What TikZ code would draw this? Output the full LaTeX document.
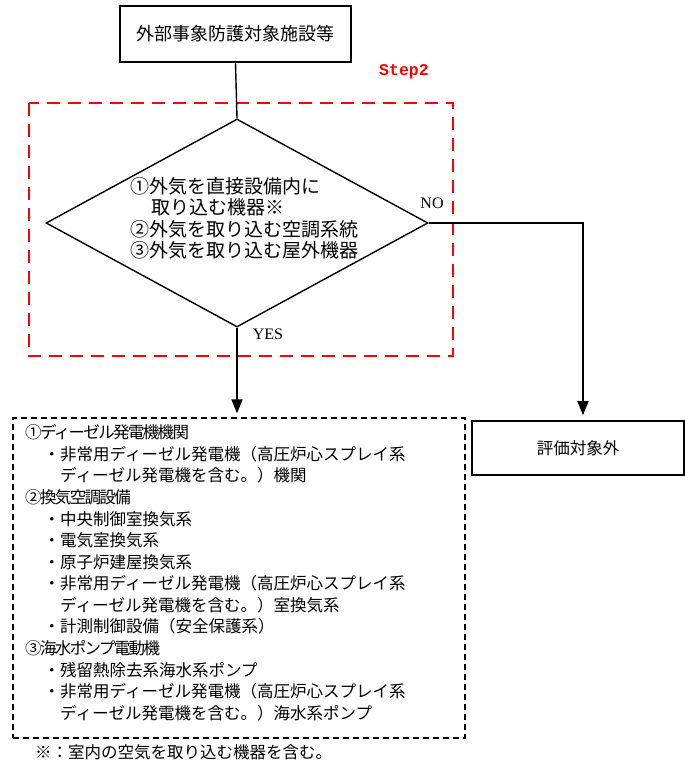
\documentclass[tikz,border=0pt]{standalone}
\usepackage{fontspec}
\setmainfont{Liberation Serif}
\newfontfamily\jp{Noto Sans CJK JP}
\newfontfamily\jphead[LetterSpace=-10]{Noto Sans CJK JP}
\newfontfamily\mono{Liberation Mono}
\usetikzlibrary{shapes.geometric,arrows.meta,calc}
\begin{document}
\begin{tikzpicture}[x=1pt,y=-1pt,
  box/.style={draw, line width=1.6pt, inner sep=0pt},
  conn/.style={line width=1.4pt},
  arr/.style={conn, -{Triangle[length=14pt,width=11pt]}},
  dtxt/.style={font=\jp\fontsize{19}{22}\selectfont, inner sep=0pt, anchor=west},
  ltxt/.style={font=\jp\fontsize{16.5}{20}\selectfont, inner sep=0pt, anchor=west},
  lhead/.style={font=\jphead\fontsize{16.5}{20}\selectfont, inner sep=0pt, anchor=west},
  lab/.style={font=\fontsize{16}{16}\selectfont, inner sep=0pt}]
\useasboundingbox (0,0) rectangle (685,769);

% top box
\node[box, minimum width=231, minimum height=56, font=\jp\fontsize{18}{22}\selectfont] (top) at (235.5,34) {外部事象防護対象施設等};

% step 2 frame
\draw[red, line width=2.6pt, dash pattern=on 13pt off 8pt] (29,103) rectangle (453,356);
\node[text=red, font=\mono\bfseries\fontsize{16.5}{16}\selectfont, inner sep=0pt] (s2) at (404,72) {Step2};

% diamond
\node[draw, diamond, line width=1.4pt, minimum width=382, minimum height=208, inner sep=0pt] (d) at (237,223) {};
\node[dtxt] (d1) at (130,186) {①外気を直接設備内に};
\node[dtxt] (d2) at (151,207) {取り込む機器※};
\node[dtxt] (d3) at (130,229) {②外気を取り込む空調系統};
\node[dtxt] (d4) at (130,250.5) {③外気を取り込む屋外機器};

\node[lab] (no) at (432,203) {NO};
\node[lab] (yes) at (268,334) {YES};

% evaluation box
\node[box, minimum width=212, minimum height=54, font=\jp\fontsize{16.5}{20}\selectfont] (ev) at (578,448) {評価対象外};

% list box
\node[draw, line width=1.3pt, dash pattern=on 6pt off 4pt, minimum width=452, minimum height=320, inner sep=0pt] (lb) at (239,578) {};
\node[lhead] (l1) at (25,432.5) {①ディーゼル発電機機関};
\node[ltxt] (l2) at (43.5,454) {・非常用ディーゼル発電機（高圧炉心スプレイ系};
\node[ltxt] (l3) at (60,475.7) {ディーゼル発電機を含む。）機関};
\node[lhead] (l4) at (25,497.2) {②換気空調設備};
\node[ltxt] (l5) at (43.5,518.8) {・中央制御室換気系};
\node[ltxt] (l6) at (43.5,540.4) {・電気室換気系};
\node[ltxt] (l7) at (43.5,562) {・原子炉建屋換気系};
\node[ltxt] (l8) at (43.5,583.6) {・非常用ディーゼル発電機（高圧炉心スプレイ系};
\node[ltxt] (l9) at (60,605.1) {ディーゼル発電機を含む。）室換気系};
\node[ltxt] (l10) at (43.5,626.7) {・計測制御設備（安全保護系）};
\node[lhead] (l11) at (25,648.3) {③海水ポンプ電動機};
\node[ltxt] (l12) at (43.5,669.9) {・残留熱除去系海水系ポンプ};
\node[ltxt] (l13) at (43.5,691.4) {・非常用ディーゼル発電機（高圧炉心スプレイ系};
\node[ltxt] (l14) at (60,713) {ディーゼル発電機を含む。）海水系ポンプ};

% footnote
\node[font=\jp\fontsize{16.5}{20}\selectfont, inner sep=0pt, anchor=west] (fn) at (35,752) {※：室内の空気を取り込む機器を含む。};

% connectors
\draw[conn] (top.south) -- (d.north);
\draw[arr, shorten >=4pt] (d.south) -- (d.south |- lb.north);
\draw[arr, shorten >=5pt] (d.east) -| ($(ev.north)+(5,0)$);
\end{tikzpicture}
\end{document}
